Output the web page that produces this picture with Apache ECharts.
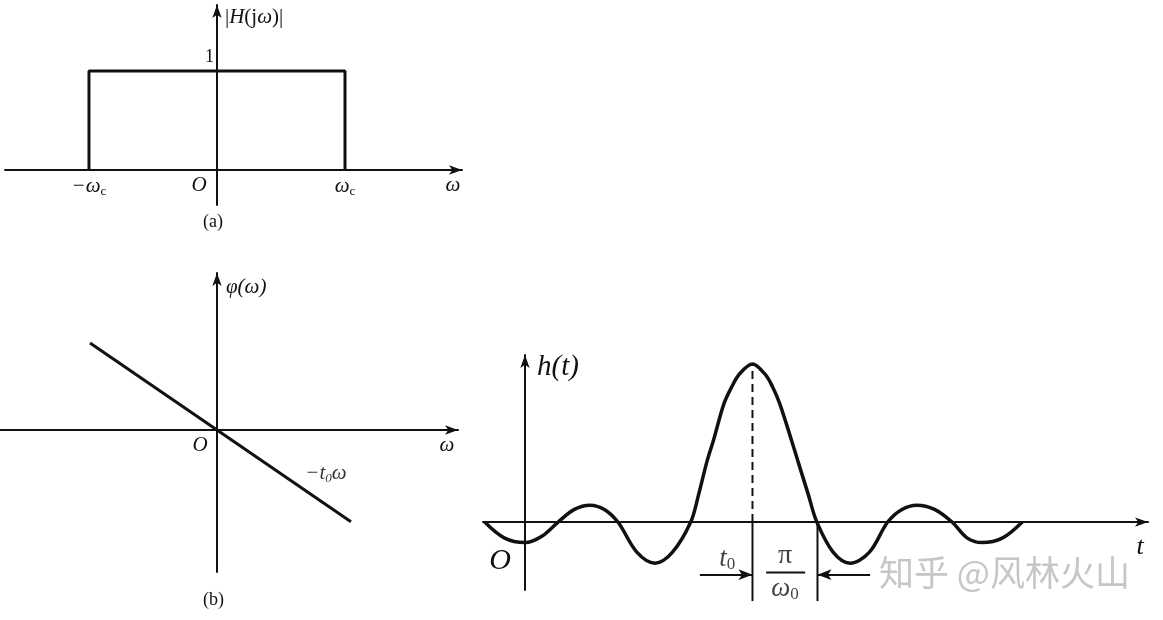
<!DOCTYPE html>
<html>
<head>
<meta charset="utf-8">
<script src="https://cdn.jsdelivr.net/npm/echarts@6/dist/echarts.min.js"></script>
<style>
html,body{margin:0;padding:0;background:#fff;}
#main{width:1163px;height:620px;}
</style>
</head>
<body>
<div id="main"></div>
<script>
// ---------- data ----------
// (a) magnitude |H(jω)| : ideal low-pass rectangle, ω in units of ωc
const magW = [-1, -1, 1, 1];
const magH = [0, 1, 1, 0];
const magTickVals = [-1, 0, 1];
const magTickLabels = ['{m|−ω}{s|c}', '{o|O}', '{m|ω}{s|c}'];

// (b) phase φ(ω) = −t0·ω
const phaseW = [-1, 1.055];
const phaseV = [1, -1.055];

// (c) impulse response h(t), t in units of π/ω0, peak normalised to 1
const hT = [-0.62, -0.32, 0, 0.26, 0.51, 0.76, 1.0, 1.22, 1.43, 1.72, 2.0, 2.27, 2.55,
            2.67, 2.80, 2.90, 3.06, 3.18, 3.30, 3.5, 3.69, 3.81, 3.92, 4.10, 4.20, 4.36, 4.49,
            4.74, 5.0, 5.3, 5.58, 5.8, 6.03, 6.3, 6.57, 6.8, 7.03, 7.35, 7.65];
const hV = [0, -0.1, -0.13, -0.09, 0, 0.08, 0.107, 0.08, 0, -0.19, -0.26, -0.19, 0,
            0.172, 0.384, 0.518, 0.748, 0.855, 0.937, 1, 0.937, 0.855, 0.748, 0.518, 0.384, 0.172, 0,
            -0.19, -0.26, -0.19, 0, 0.08, 0.107, 0.08, 0, -0.1, -0.13, -0.1, 0];
const t0 = 3.5;          // peak delay
const halfLobe = 1.0;    // π/ω0
const dimLevel = -0.333; // level of dimension arrows
const dimDepth = -0.5;   // depth of dimension lines

// ---------- layout ----------
const SERIF = "'Liberation Serif','DejaVu Serif',serif";
const INK = '#111';
const boxes = [
  { left: 5, top: 5, width: 457, height: 200 },
  { left: 0, top: 273, width: 458, height: 299 },
  { left: 483, top: 355, width: 665, height: 235 }
];
const ranges = [
  { x: [-1.656, 1.914], y: [-0.354, 1.667] },
  { x: [-1.709, 1.898], y: [-1.632, 1.805] },
  { x: [-0.646, 9.585], y: [-0.43, 1.057] }
];
function zeroOff(r, len) { return -len * (0 - r[0]) / (r[1] - r[0]); }
function pairs(xs, ys) { return xs.map((x, i) => [x, ys[i]]); }

const arrowLine = { onZero: false, symbol: ['none', 'arrow'], symbolSize: [7, 13], lineStyle: { color: INK, width: 2 } };

function xAx(i, extra) {
  return Object.assign({
    type: 'value', gridIndex: i, min: ranges[i].x[0], max: ranges[i].x[1],
    position: 'bottom', offset: zeroOff(ranges[i].y, boxes[i].height),
    axisLine: arrowLine, axisTick: { show: false }, splitLine: { show: false }
  }, extra);
}
function yAx(i, extra) {
  return Object.assign({
    type: 'value', gridIndex: i, min: ranges[i].y[0], max: ranges[i].y[1],
    position: 'left', offset: zeroOff(ranges[i].x, boxes[i].width),
    axisLine: arrowLine, axisTick: { show: false }, splitLine: { show: false }
  }, extra);
}

const chart = echarts.init(document.getElementById('main'));

const option = {
  backgroundColor: '#fff',
  animation: false,
  grid: boxes.map(b => ({
    left: b.left, top: b.top, width: b.width, height: b.height,
    containLabel: false, outerBoundsMode: 'none'
  })),
  xAxis: [
    xAx(0, {
      axisLabel: {
        customValues: magTickVals, margin: 5,
        formatter: v => magTickLabels[magTickVals.indexOf(v)],
        rich: {
          m: { fontFamily: SERIF, fontStyle: 'italic', fontSize: 21, color: INK },
          s: { fontFamily: SERIF, fontSize: 13, color: INK, padding: [10, 0, 0, 0] },
          o: { fontFamily: SERIF, fontStyle: 'italic', fontSize: 21, color: INK, padding: [0, 36, 0, 0] }
        }
      },
      name: 'ω', nameLocation: 'end', nameGap: -9,
      nameTextStyle: { fontFamily: SERIF, fontStyle: 'italic', fontSize: 21, color: INK, align: 'center', verticalAlign: 'top', padding: [5, 0, 0, 0] }
    }),
    xAx(1, {
      axisLabel: {
        customValues: [0], margin: 5, formatter: () => '{o|O}',
        rich: { o: { fontFamily: SERIF, fontStyle: 'italic', fontSize: 21, color: INK, padding: [0, 34, 0, 0] } }
      },
      name: 'ω', nameLocation: 'end', nameGap: -11,
      nameTextStyle: { fontFamily: SERIF, fontStyle: 'italic', fontSize: 21, color: INK, align: 'center', verticalAlign: 'top', padding: [5, 0, 0, 0] }
    }),
    xAx(2, {
      axisLabel: {
        customValues: [0], margin: 24, formatter: () => '{o|O}',
        rich: { o: { fontFamily: SERIF, fontStyle: 'italic', fontSize: 30, color: INK, padding: [0, 50, 0, 0] } }
      },
      name: 't', nameLocation: 'end', nameGap: -8,
      nameTextStyle: { fontFamily: SERIF, fontStyle: 'italic', fontSize: 26, color: INK, align: 'center', verticalAlign: 'top', padding: [12, 0, 0, 0] }
    })
  ],
  yAxis: [
    yAx(0, {
      axisLabel: {
        customValues: [1], margin: 3, formatter: () => '{o|1}',
        rich: { o: { fontFamily: SERIF, fontSize: 18, color: INK, padding: [0, 0, 28, 0] } }
      },
      name: '|{i|H}(j{i|ω})|', nameLocation: 'end', nameGap: -12,
      nameTextStyle: {
        fontFamily: SERIF, fontSize: 21, color: INK, align: 'left', verticalAlign: 'middle', padding: [0, 0, 0, 8],
        rich: { i: { fontFamily: SERIF, fontStyle: 'italic', fontSize: 21, color: INK } }
      }
    }),
    yAx(1, {
      axisLabel: { show: false },
      name: 'φ(ω)', nameLocation: 'end', nameGap: -14,
      nameTextStyle: { fontFamily: SERIF, fontStyle: 'italic', fontSize: 21, color: INK, align: 'left', verticalAlign: 'middle', padding: [0, 0, 0, 9] }
    }),
    yAx(2, {
      axisLabel: { show: false },
      name: 'h(t)', nameLocation: 'end', nameGap: -12,
      nameTextStyle: { fontFamily: SERIF, fontStyle: 'italic', fontSize: 29, color: INK, align: 'left', verticalAlign: 'middle', padding: [0, 0, 0, 12] }
    })
  ],
  series: [
    {
      name: 'magnitude', type: 'line', xAxisIndex: 0, yAxisIndex: 0,
      data: pairs(magW, magH), symbol: 'none',
      lineStyle: { color: INK, width: 3 }
    },
    {
      name: 'phase', type: 'line', xAxisIndex: 1, yAxisIndex: 1,
      data: pairs(phaseW, phaseV), symbol: 'none',
      lineStyle: { color: INK, width: 3 }
    },
    {
      name: 'phaseLabel', type: 'scatter', xAxisIndex: 1, yAxisIndex: 1,
      symbolSize: 1, itemStyle: { color: 'transparent' },
      data: [{
        value: [phaseW[1], phaseV[1]],
        label: {
          show: true, position: 'inside', offset: [-25, -48], color: INK,
          formatter: '{i|−t}{s|0}{i|ω}',
          rich: {
            i: { fontFamily: SERIF, fontStyle: 'italic', fontSize: 21, color: '#000' },
            s: { fontFamily: SERIF, fontStyle: 'italic', fontSize: 13, color: '#000', padding: [9, 0, 0, 0] }
          }
        }
      }]
    },
    {
      name: 'h(t)', type: 'line', xAxisIndex: 2, yAxisIndex: 2,
      data: pairs(hT, hV), symbol: 'none', smooth: 0.34,
      lineStyle: { color: INK, width: 3.5 }
    },
    {
      name: 'peak', type: 'line', xAxisIndex: 2, yAxisIndex: 2,
      data: [[t0, 0], [t0, 1]], symbol: 'none',
      lineStyle: { color: INK, width: 2, type: [8, 5] }
    },
    {
      name: 'dimL', type: 'line', xAxisIndex: 2, yAxisIndex: 2, clip: false,
      data: [[t0, 0], [t0, dimDepth]], symbol: 'none',
      lineStyle: { color: INK, width: 2 }
    },
    {
      name: 'dimR', type: 'line', xAxisIndex: 2, yAxisIndex: 2, clip: false,
      data: [[t0 + halfLobe, 0], [t0 + halfLobe, dimDepth]], symbol: 'none',
      lineStyle: { color: INK, width: 2 }
    },
    {
      name: 'fracBar', type: 'line', xAxisIndex: 2, yAxisIndex: 2,
      data: [[t0 + 0.21, -0.32], [t0 + 0.81, -0.32]], symbol: 'none',
      lineStyle: { color: INK, width: 2 }
    },
    {
      name: 'arrows', type: 'line', xAxisIndex: 2, yAxisIndex: 2,
      data: [[t0, 0]], symbol: 'none', lineStyle: { opacity: 0 },
      markLine: {
        silent: true, animation: false,
        label: { show: false },
        lineStyle: { color: INK, width: 2, type: 'solid' },
        symbolSize: [8, 14],
        data: [
          [{ coord: [t0 - 0.81, dimLevel], symbol: 'none' }, { coord: [t0, dimLevel], symbol: 'arrow' }],
          [{ coord: [t0 + halfLobe + 0.81, dimLevel], symbol: 'none' }, { coord: [t0 + halfLobe, dimLevel], symbol: 'arrow' }]
        ]
      }
    },
    {
      name: 'annotations', type: 'scatter', xAxisIndex: 2, yAxisIndex: 2, clip: false,
      symbolSize: 1, itemStyle: { color: 'transparent' },
      label: {
        show: true, position: 'inside', color: INK,
        rich: {
          i: { fontFamily: SERIF, fontStyle: 'italic', fontSize: 27, color: INK },
          r: { fontFamily: SERIF, fontSize: 28, color: INK },
          s: { fontFamily: SERIF, fontSize: 17, color: INK, padding: [12, 0, 0, 0] }
        }
      },
      data: [
        { value: [t0 - 0.39, -0.233], label: { formatter: '{i|t}{s|0}' } },
        { value: [t0 + halfLobe / 2, -0.215], label: { formatter: '{r|π}' } },
        { value: [t0 + halfLobe / 2, -0.42], label: { formatter: '{i|ω}{s|0}' } }
      ]
    }
  ],
  graphic: [
    { type: 'text', left: 203, top: 213, style: { text: '(a)', font: '18px ' + SERIF, fill: INK } },
    { type: 'text', left: 203, top: 591, style: { text: '(b)', font: '18px ' + SERIF, fill: INK } },
    { type: 'text', left: 879, top: 555, style: { text: '知乎 @风林火山', font: '35px "Noto Sans CJK SC"', fill: '#c6c6c6' } }
  ]
};

chart.setOption(option);
</script>
</body>
</html>
